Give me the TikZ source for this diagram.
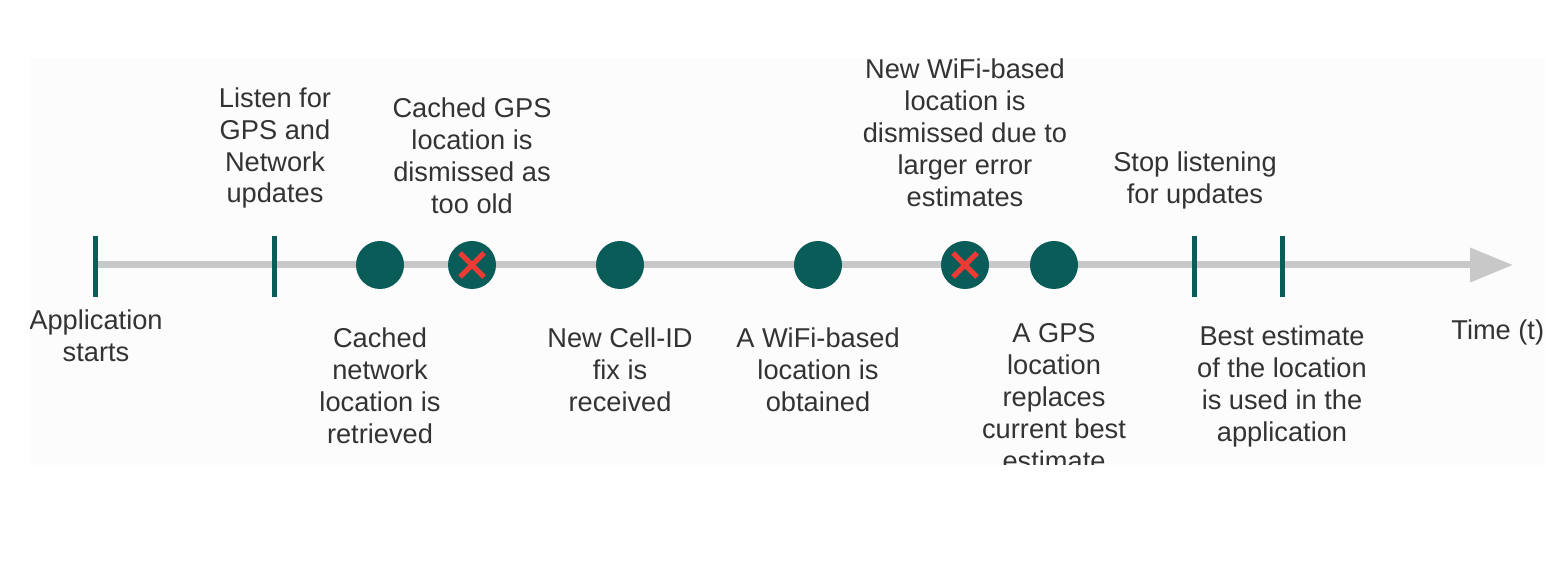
\documentclass[tikz,border=0pt]{standalone}
\usepackage{fontspec}
\setmainfont{Liberation Sans}
\usetikzlibrary{arrows.meta}

\definecolor{evteal}{HTML}{0A5C59}
\definecolor{axisgray}{HTML}{C8C8C8}
\definecolor{crossred}{HTML}{EC3A35}
\definecolor{txtgray}{HTML}{333333}
\definecolor{panelbg}{HTML}{FCFCFC}

\tikzset{
  event/.style={circle, fill=evteal, draw=none, minimum size=48*0.02cm, inner sep=0},
  tick/.style={draw=evteal, line width=5*0.02cm},
  lbl/.style={align=center, text=txtgray, inner sep=0, font=\fontsize{15.5}{18.2}\selectfont}
}

\begin{document}
\begin{tikzpicture}[x=0.02cm, y=-0.02cm]

\useasboundingbox (0, 0) rectangle (1561, 573);
\fill[panelbg] (30, 58) rectangle (1545, 465);

% time axis
\coordinate (t0) at (95, 265);
\coordinate (t1) at (1513, 265);
\draw[axisgray, line width=7*0.02cm, -{Triangle[length=0.86cm, width=0.66cm]}] (t0) -- (t1);

% ticks
\foreach \name/\x in {start/95, listen/274, stop/1194, use/1282} {
  \coordinate (\name top) at (\x, 236);
  \coordinate (\name bot) at (\x, 297);
  \draw[tick] (\name top) -- (\name bot);
}

% location fixes
\node[event] (netfix) at (380, 265) {};
\node[event] (gpsold) at (472, 265) {};
\node[event] (cellfix) at (620, 265) {};
\node[event] (wififix) at (818, 265) {};
\node[event] (wifibad) at (965, 265) {};
\node[event] (gpsfix) at (1054, 265) {};

% dismissed fixes
\foreach \n in {gpsold, wifibad} {
  \draw[crossred, line width=5*0.02cm] (\n.center) +(-12, -12) -- +(12, 12);
  \draw[crossred, line width=5*0.02cm] (\n.center) +(-12, 12) -- +(12, -12);
}

\begin{scope}
\clip (30, 58) rectangle (1545, 465);

\node[lbl] (appstarts) at (96, 336) {Application\\starts};
\node[lbl] (listentxt) at (275, 148) {Listen for\\GPS and\\Network\\updates};
\node[lbl] (gpsoldtxt) at (472, 156) {Cached GPS\\location is\\dismissed as\\too old};
\node[lbl] (nettxt) at (380, 386) {Cached\\network\\location is\\retrieved};
\node[lbl] (celltxt) at (620, 370) {New Cell-ID\\fix is\\received};
\node[lbl] (wifitxt) at (818, 370) {A WiFi-based\\location is\\obtained};
\node[lbl] (wifibadtxt) at (965, 133) {New WiFi-based\\location is\\dismissed due to\\larger error\\estimates};
\node[lbl] (gpstxt) at (1054, 397) {A GPS\\location\\replaces\\current best\\estimate};
\node[lbl] (stoptxt) at (1195, 180) {Stop listening\\for updates};
\node[lbl] (usetxt) at (1282, 386) {Best estimate\\of the location\\is used in the\\application};
\node[lbl, anchor=west] (timetxt) at (1451, 332) {Time (t)};
\end{scope}

\end{tikzpicture}
\end{document}
